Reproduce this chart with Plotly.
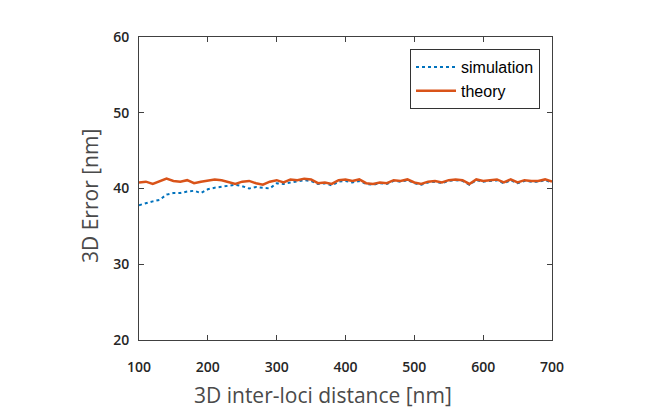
import plotly.graph_objects as go

distance = list(range(100, 701, 10))
theory = [40.8, 40.9, 40.6, 41.0, 41.3, 41.0, 40.9, 41.1, 40.7, 40.9,
          41.1, 41.2, 41.1, 40.8, 40.6, 40.9, 41.0, 40.7, 40.5, 40.9,
          41.1, 40.8, 41.2, 41.1, 41.3, 41.2, 40.7, 40.8, 40.6, 41.1,
          41.2, 41.0, 41.2, 40.7, 40.6, 40.8, 40.7, 41.1, 41.0, 41.2,
          40.8, 40.6, 40.9, 41.0, 40.8, 41.1, 41.2, 41.1, 40.6, 41.2,
          41.0, 41.1, 41.2, 40.8, 41.2, 40.8, 41.1, 41.0, 41.0, 41.2,
          40.9]
simulation = [37.8, 38.1, 38.3, 38.5, 39.2, 39.4, 39.4, 39.6, 39.7, 39.4,
              39.9, 40.1, 40.2, 40.4, 40.5, 40.3, 40.0, 40.2, 40.1, 40.0,
              40.7, 40.6, 40.8, 40.9, 41.1, 41.0, 40.6, 40.7, 40.4, 40.9,
              41.0, 40.8, 41.0, 40.6, 40.5, 40.7, 40.6, 41.0, 40.9, 41.1,
              40.7, 40.5, 40.8, 40.9, 40.7, 41.0, 41.1, 41.0, 40.5, 41.1,
              40.9, 41.0, 41.1, 40.7, 41.1, 40.7, 41.0, 40.9, 40.9, 41.1,
              40.8]
x_ticks = [100, 200, 300, 400, 500, 600, 700]
y_ticks = [20, 30, 40, 50, 60]

fig = go.Figure()
fig.add_trace(go.Scatter(x=distance, y=simulation, mode="lines", name="simulation",
                         line=dict(color="#0072BD", width=2, dash="dot")))
fig.add_trace(go.Scatter(x=distance, y=theory, mode="lines", name="theory",
                         line=dict(color="#D95319", width=2.5)))

tickfont = dict(family="Open Sans", size=14, color="#262626", weight=600)
axis_common = dict(showline=True, linecolor="#404040", linewidth=1, mirror="ticks",
                   ticks="inside", ticklen=5, tickcolor="#404040", showgrid=False,
                   zeroline=False, tickfont=tickfont)
title_font = dict(family="Open Sans", size=21, color="#4a4a4a")

# plot area in page pixels: x 139..552, y 37..340 (page body has an 8px margin)
fig.update_layout(
    width=666, height=414,
    margin=dict(l=131, r=122, t=29, b=82),
    paper_bgcolor="white", plot_bgcolor="white",
    showlegend=True,
    legend=dict(x=(540 - 139) / 413, y=(340 - 49) / 303, xanchor="right", yanchor="top",
                bordercolor="#333333", borderwidth=1, bgcolor="white",
                font=dict(family="Liberation Sans", size=16, color="black"),
                tracegroupgap=0, itemwidth=40),
    xaxis=dict(range=[100, 700], tickvals=x_ticks, ticklabelstandoff=14, **axis_common),
    yaxis=dict(range=[20, 60], tickvals=y_ticks, ticklabelstandoff=6, **axis_common),
    annotations=[
        dict(text="3D inter-loci distance [nm]", xref="paper", yref="paper",
             x=(323 - 139) / 413, y=-(395 - 340) / 303, xanchor="center", yanchor="middle",
             showarrow=False, font=title_font),
        dict(text="3D Error [nm]", xref="paper", yref="paper",
             x=-(139 - 90) / 413, y=(340 - 196) / 303, xanchor="center", yanchor="middle",
             textangle=-90, showarrow=False, font=title_font),
    ],
)

fig.write_html("out.html")
